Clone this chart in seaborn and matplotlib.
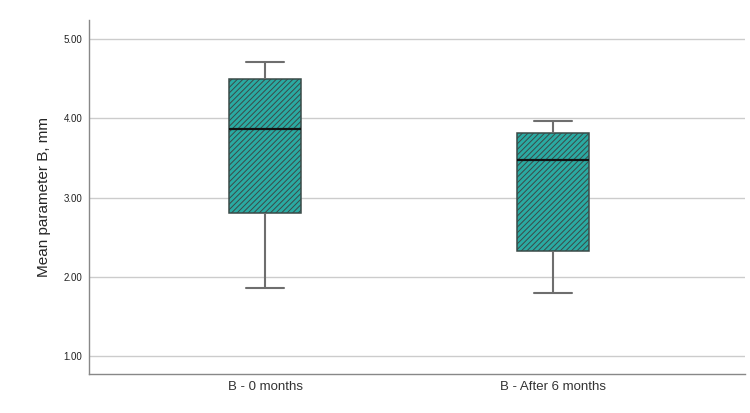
import numpy as np
import pandas as pd
import matplotlib
matplotlib.use("Agg")
import matplotlib.pyplot as plt
import seaborn as sns

# === Data (min, Q1, median, Q3, max) ===
groups = ["B - 0 months", "B - After 6 months"]
b_0_months = [1.86, 2.80, 3.86, 4.49, 4.71]
b_6_months = [1.80, 2.33, 3.47, 3.81, 3.97]
y_ticks = [1.0, 2.0, 3.0, 4.0, 5.0]

df = pd.DataFrame({
    "group": [groups[0]] * len(b_0_months) + [groups[1]] * len(b_6_months),
    "value": b_0_months + b_6_months,
})

sns.set_style("white")
plt.rcParams["font.family"] = ["Liberation Sans", "DejaVu Sans"]
plt.rcParams["hatch.color"] = "#1e857f"
plt.rcParams["hatch.linewidth"] = 0.7

fig, ax = plt.subplots(figsize=(7.5, 4.13), dpi=100)
fig.subplots_adjust(left=0.119, right=0.993, top=0.952, bottom=0.094)

sns.boxplot(
    data=df, x="group", y="value", ax=ax,
    whis=np.inf, width=0.25, color="#2aaaa2", saturation=1,
    linecolor="#555555", linewidth=1.1,
    medianprops={"color": "#111111", "linewidth": 1.6},
    whiskerprops={"color": "#6e6e6e", "linewidth": 1.5},
    capprops={"color": "#6e6e6e", "linewidth": 1.5},
    capwidths=0.13, zorder=3,
)
for patch in ax.patches:
    patch.set_hatch("//////")
    patch.set_edgecolor("#3a4a48")

ax.set_xlim(-0.611, 1.667)
ax.set_ylim(0.773, 5.24)
ax.set_yticks(y_ticks)
ax.set_yticklabels([f"{t:.2f}" for t in y_ticks], fontsize=7)
ax.tick_params(axis="x", labelsize=9.5, length=0, pad=5, colors="#333333")
ax.tick_params(axis="y", length=0, pad=5, colors="#222222")
ax.yaxis.grid(True, color="#cccccc", linewidth=1.0, zorder=0)
ax.set_axisbelow(True)
ax.set_xlabel("")
ax.set_ylabel("Mean parameter B, mm", fontsize=11, labelpad=9)

for side in ["top", "right"]:
    ax.spines[side].set_visible(False)
for side in ["left", "bottom"]:
    ax.spines[side].set_color("#888888")
    ax.spines[side].set_linewidth(1.0)

plt.savefig("out.png", dpi=100)
plt.close()
